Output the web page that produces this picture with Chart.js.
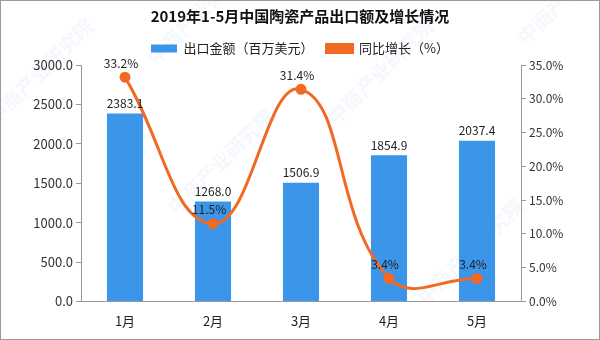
<!DOCTYPE html>
<html>
<head>
<meta charset="utf-8">
<script src="https://cdn.jsdelivr.net/npm/chart.js@4/dist/chart.umd.min.js"></script>
<style>
  html, body { margin: 0; padding: 0; background: #fff; }
  #wrap { width: 598px; height: 338px; border: 1px solid #9a9a9a; position: relative; }
</style>
</head>
<body>
<div id="wrap"><canvas id="exportChart" width="598" height="338"></canvas></div>
<script>
// 2019年1-5月 陶瓷产品出口额 / 同比增长
const months = ["1月", "2月", "3月", "4月", "5月"];
const exportValue = [2383.1, 1268.0, 1506.9, 1854.9, 2037.4];
const growthRate = [33.2, 11.5, 31.4, 3.4, 3.4];

const fontFamily = "'Noto Sans CJK SC', 'DejaVu Sans', sans-serif";

// value labels above bars and points
const valueLabels = {
  id: "valueLabels",
  afterDatasetsDraw(chart) {
    const ctx = chart.ctx;
    ctx.save();
    ctx.fillStyle = "#222";
    ctx.font = "12px " + fontFamily;
    ctx.textAlign = "center";
    ctx.textBaseline = "bottom";
    chart.getDatasetMeta(0).data.forEach((bar, i) => {
      ctx.fillText(exportValue[i].toFixed(1), bar.x, bar.y - 4);
    });
    chart.getDatasetMeta(1).data.forEach((pt, i) => {
      ctx.fillText(growthRate[i].toFixed(1) + "%", pt.x - 4, pt.y - 8);
    });
    ctx.restore();
  }
};

// faint diagonal watermark text
const watermark = {
  id: "watermark",
  beforeDraw(chart) {
    const ctx = chart.ctx;
    const spots = [[-10, 120], [170, 210], [330, 120], [420, 300], [150, 60], [520, 40]];
    ctx.save();
    ctx.fillStyle = "rgba(120,170,220,0.08)";
    ctx.font = "bold 20px " + fontFamily;
    spots.forEach(([x, y]) => {
      ctx.save();
      ctx.translate(x, y);
      ctx.rotate(-Math.PI / 4);
      ctx.fillText("中商产业研究院", 0, 0);
      ctx.restore();
    });
    ctx.restore();
  }
};

const ctx = document.getElementById("exportChart").getContext("2d");
const chart = new Chart(ctx, {
  data: {
    labels: months,
    datasets: [
      {
        type: "bar",
        label: "出口金额（百万美元）",
        data: exportValue,
        backgroundColor: "#3b95e8",
        barPercentage: 0.41,
        categoryPercentage: 1,
        yAxisID: "y",
        order: 2
      },
      {
        type: "line",
        label: "同比增长（%）",
        data: growthRate,
        borderColor: "#f06a23",
        backgroundColor: "#f06a23",
        borderWidth: 3,
        tension: 0.45,
        pointRadius: 4,
        pointHoverRadius: 4,
        yAxisID: "y1",
        order: 1
      }
    ]
  },
  options: {
    responsive: false,
    animation: false,
    layout: { padding: { top: 3, bottom: 6 } },
    plugins: {
      title: {
        display: true,
        text: "2019年1-5月中国陶瓷产品出口额及增长情况",
        color: "#111",
        font: { family: fontFamily, size: 15, weight: "bold" },
        padding: { top: 3, bottom: 4 }
      },
      legend: {
        position: "top",
        labels: {
          color: "#222",
          font: { family: fontFamily, size: 13 },
          boxWidth: 26,
          boxHeight: 8,
          padding: 13,
          sort: (a, b) => a.datasetIndex - b.datasetIndex
        }
      },
      tooltip: { enabled: false }
    },
    scales: {
      x: {
        grid: { display: false, drawOnChartArea: false },
        border: { color: "#999" },
        ticks: { color: "#222", font: { family: fontFamily, size: 13 }, padding: 4 }
      },
      y: {
        position: "left",
        min: 0,
        max: 3000,
        ticks: {
          stepSize: 500,
          color: "#333",
          font: { family: fontFamily, size: 13 },
          callback: v => v.toFixed(1)
        },
        grid: { drawOnChartArea: false, tickLength: 5, color: "#999" },
        border: { color: "#999" },
        afterFit: s => { s.width = 80; }
      },
      y1: {
        position: "right",
        min: 0,
        max: 35,
        ticks: {
          stepSize: 5,
          color: "#333",
          font: { family: fontFamily, size: 12 },
          callback: v => v.toFixed(1) + "%"
        },
        grid: { drawOnChartArea: false, tickLength: 5, color: "#999" },
        border: { color: "#999" },
        afterFit: s => { s.width = 78; }
      }
    }
  },
  plugins: [watermark, valueLabels]
});
</script>
</body>
</html>
